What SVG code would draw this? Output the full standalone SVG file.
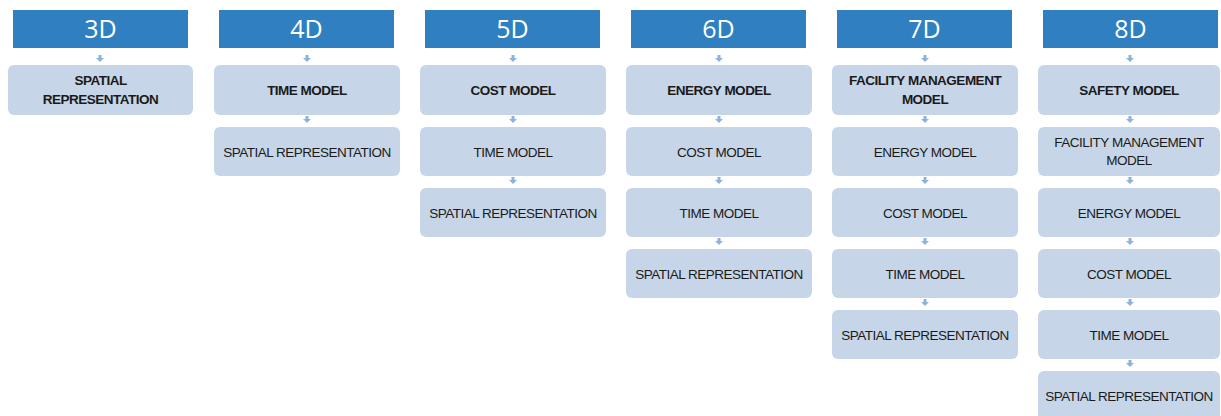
<svg xmlns="http://www.w3.org/2000/svg" width="1221" height="416" viewBox="0 0 1221 416">
<defs>
<style>
.hdr{fill:#2f7fc1}
.hl{fill:#ffffff;font-family:"Open Sans","Liberation Sans",sans-serif;font-size:25px;text-anchor:middle}
.box{fill:#c6d6e8}
.t{fill:#1a1a1a;font-family:"Liberation Sans",sans-serif;font-size:13.5px;text-anchor:middle;letter-spacing:-0.5px}
.b{font-weight:bold}
.ar{fill:#8db3dc}
</style>
<path id="arr" d="M-1.5,0 h3 v3 h2.5 l-4,4 l-4,-4 h2.5 z"/>
</defs>
<rect width="1221" height="416" fill="#ffffff"/>
<g id="connectors" class="ar">
<use href="#arr" x="100" y="55"/>
<use href="#arr" x="307" y="55"/><use href="#arr" x="307" y="116"/>
<use href="#arr" x="513" y="55"/><use href="#arr" x="513" y="116"/><use href="#arr" x="513" y="177"/>
<use href="#arr" x="719" y="55"/><use href="#arr" x="719" y="116"/><use href="#arr" x="719" y="177"/><use href="#arr" x="719" y="238"/>
<use href="#arr" x="925" y="55"/><use href="#arr" x="925" y="116"/><use href="#arr" x="925" y="177"/><use href="#arr" x="925" y="238"/><use href="#arr" x="925" y="299"/>
<use href="#arr" x="1130" y="55"/><use href="#arr" x="1130" y="116"/><use href="#arr" x="1130" y="177"/><use href="#arr" x="1130" y="238"/><use href="#arr" x="1130" y="299"/><use href="#arr" x="1130" y="360"/>
</g>
<g id="h3d"><rect class="hdr" x="13" y="10" width="175" height="38"/><text class="hl" x="100.5" y="38">3D</text></g>
<g id="h4d"><rect class="hdr" x="219" y="10" width="175" height="38"/><text class="hl" x="306.5" y="38">4D</text></g>
<g id="h5d"><rect class="hdr" x="425" y="10" width="175" height="38"/><text class="hl" x="512.5" y="38">5D</text></g>
<g id="h6d"><rect class="hdr" x="631" y="10" width="175" height="38"/><text class="hl" x="718.5" y="38">6D</text></g>
<g id="h7d"><rect class="hdr" x="837" y="10" width="175" height="38"/><text class="hl" x="924.5" y="38">7D</text></g>
<g id="h8d"><rect class="hdr" x="1043" y="10" width="175" height="38"/><text class="hl" x="1130.5" y="38">8D</text></g>

<g id="n3d1"><rect class="box" x="8" y="65" width="185" height="50" rx="6"/><text class="t b" x="100.5" y="85">SPATIAL</text><text class="t b" x="100.5" y="104">REPRESENTATION</text></g>

<g id="n4d1"><rect class="box" x="214" y="65" width="186" height="50" rx="6"/><text class="t b" x="307" y="94.5">TIME MODEL</text></g>
<g id="n4d2"><rect class="box" x="214" y="127" width="186" height="49" rx="6"/><text class="t" x="307" y="156.5">SPATIAL REPRESENTATION</text></g>

<g id="n5d1"><rect class="box" x="420" y="65" width="186" height="50" rx="6"/><text class="t b" x="513" y="94.5">COST MODEL</text></g>
<g id="n5d2"><rect class="box" x="420" y="127" width="186" height="49" rx="6"/><text class="t" x="513" y="156.5">TIME MODEL</text></g>
<g id="n5d3"><rect class="box" x="420" y="188" width="186" height="49" rx="6"/><text class="t" x="513" y="217.5">SPATIAL REPRESENTATION</text></g>

<g id="n6d1"><rect class="box" x="626" y="65" width="186" height="50" rx="6"/><text class="t b" x="719" y="94.5">ENERGY MODEL</text></g>
<g id="n6d2"><rect class="box" x="626" y="127" width="186" height="49" rx="6"/><text class="t" x="719" y="156.5">COST MODEL</text></g>
<g id="n6d3"><rect class="box" x="626" y="188" width="186" height="49" rx="6"/><text class="t" x="719" y="217.5">TIME MODEL</text></g>
<g id="n6d4"><rect class="box" x="626" y="249" width="186" height="49" rx="6"/><text class="t" x="719" y="278.5">SPATIAL REPRESENTATION</text></g>

<g id="n7d1"><rect class="box" x="832" y="65" width="186" height="50" rx="6"/><text class="t b" x="925" y="85">FACILITY MANAGEMENT</text><text class="t b" x="925" y="104">MODEL</text></g>
<g id="n7d2"><rect class="box" x="832" y="127" width="186" height="49" rx="6"/><text class="t" x="925" y="156.5">ENERGY MODEL</text></g>
<g id="n7d3"><rect class="box" x="832" y="188" width="186" height="49" rx="6"/><text class="t" x="925" y="217.5">COST MODEL</text></g>
<g id="n7d4"><rect class="box" x="832" y="249" width="186" height="49" rx="6"/><text class="t" x="925" y="278.5">TIME MODEL</text></g>
<g id="n7d5"><rect class="box" x="832" y="310" width="186" height="49" rx="6"/><text class="t" x="925" y="339.5">SPATIAL REPRESENTATION</text></g>

<g id="n8d1"><rect class="box" x="1038" y="65" width="182" height="50" rx="6"/><text class="t b" x="1129" y="94.5">SAFETY MODEL</text></g>
<g id="n8d2"><rect class="box" x="1038" y="127" width="182" height="49" rx="6"/><text class="t" x="1129" y="147">FACILITY MANAGEMENT</text><text class="t" x="1129" y="165">MODEL</text></g>
<g id="n8d3"><rect class="box" x="1038" y="188" width="182" height="49" rx="6"/><text class="t" x="1129" y="217.5">ENERGY MODEL</text></g>
<g id="n8d4"><rect class="box" x="1038" y="249" width="182" height="49" rx="6"/><text class="t" x="1129" y="278.5">COST MODEL</text></g>
<g id="n8d5"><rect class="box" x="1038" y="310" width="182" height="49" rx="6"/><text class="t" x="1129" y="339.5">TIME MODEL</text></g>
<g id="n8d6"><rect class="box" x="1038" y="371" width="182" height="49" rx="6"/><text class="t" x="1129" y="400.5">SPATIAL REPRESENTATION</text></g>
</svg>
